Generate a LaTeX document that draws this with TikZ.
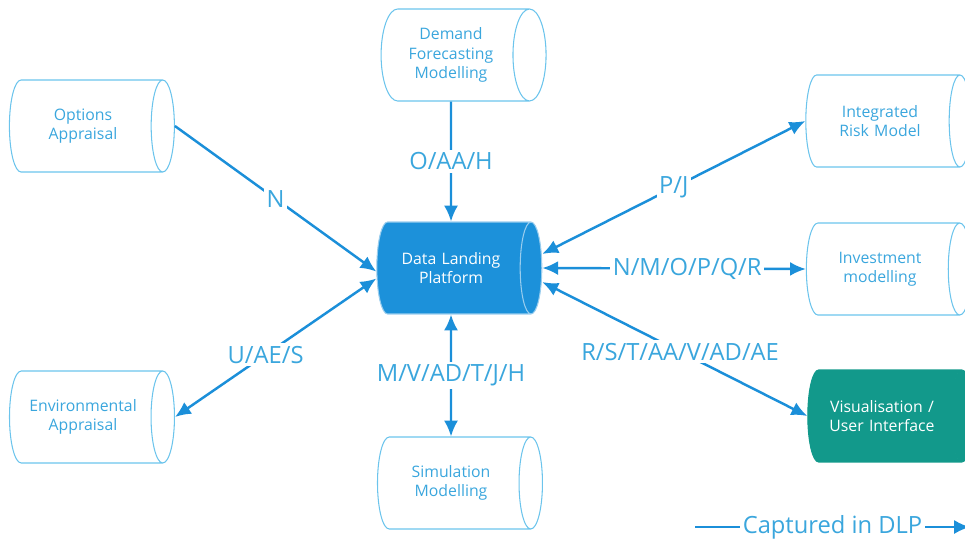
\documentclass[tikz,border=0pt]{standalone}
\usepackage{fontspec}
\setmainfont{Open Sans}
\usepackage{tikz}
\usetikzlibrary{shapes.geometric}
\usetikzlibrary{arrows.meta}
\definecolor{lineblue}{HTML}{1B8FD9}
\definecolor{edgeblue}{HTML}{6CC4EC}
\definecolor{textblue}{HTML}{3AA6DD}
\definecolor{dlpblue}{HTML}{1C91DA}
\definecolor{visteal}{HTML}{12998B}

\begin{document}
\begin{tikzpicture}[x=0.02cm, y=-0.02cm,
  store/.style={cylinder, draw=edgeblue, line width=0.6pt, aspect=0.5,
    minimum height=3.3cm, minimum width=1.84cm, text width=2.2cm, align=center,
    text=textblue, font=\fontsize{9}{11}\selectfont},
  flow/.style={draw=lineblue, line width=1.4pt, -{Latex[length=9pt,width=8pt]}},
  both/.style={flow, {Latex[length=9pt,width=8pt]}-{Latex[length=9pt,width=8pt]}},
  tag/.style={fill=white, text=textblue, inner sep=1.5pt,
    font=\fontsize{13.5}{15}\selectfont}]
\useasboundingbox (0,0) rectangle (965,542);
%%% stores %%%

      \node[store] (opt) at (83,126) {Options Appraisal};
      \node[store] (env) at (83,417) {Environmental Appraisal};
      \node[store] (dem) at (451,55) {Demand Forecasting Modelling};
      \node[store, draw=white!55!dlpblue, cylinder uses custom fill,
        cylinder body fill=dlpblue, cylinder end fill=dlpblue, text=white] (dlp) at (451,268) {Data Landing Platform};
      \node[store] (sim) at (451,483) {Simulation Modelling};
      \node[store] (risk) at (880,121) {Integrated Risk Model};
      \node[store] (inv) at (880,269) {Investment modelling};
      \node[store, draw=visteal, cylinder uses custom fill,
        cylinder body fill=visteal, cylinder end fill=visteal, text=white] (vis) at (882,416) {Visualisation / User Interface};
      %% flows
      \draw[flow] (opt.east) -- ([yshift=-2pt]dlp.west) node[tag, midway] {N};
      \draw[flow] (dem.south) -- (dlp.north) node[tag, midway] {O/AA/H};
      \draw[both] ([yshift=-6pt]dlp.west) -- (env.east) node[tag, pos=0.55] {U/AE/S};
      \draw[both] (dlp.south) -- (sim.north) node[tag, midway] {M/V/AD/T/J/H};
      \draw[both] ([yshift=8pt]dlp.east) -- (risk.west) node[tag, midway] {P/J};
      \draw[both] (dlp.east) -- (inv.west) node[tag, pos=0.55] {N/M/O/P/Q/R};
      \draw[both] ([yshift=-8pt]dlp.east) -- (vis.west) node[tag, pos=0.52] {R/S/T/AA/V/AD/AE};
      %% legend
      \coordinate (legA) at (695,527);
      \coordinate (legB) at (970,527);
      \draw[flow] (legA) -- (legB) node[tag, midway] {Captured in DLP};

\end{tikzpicture}
\end{document}
